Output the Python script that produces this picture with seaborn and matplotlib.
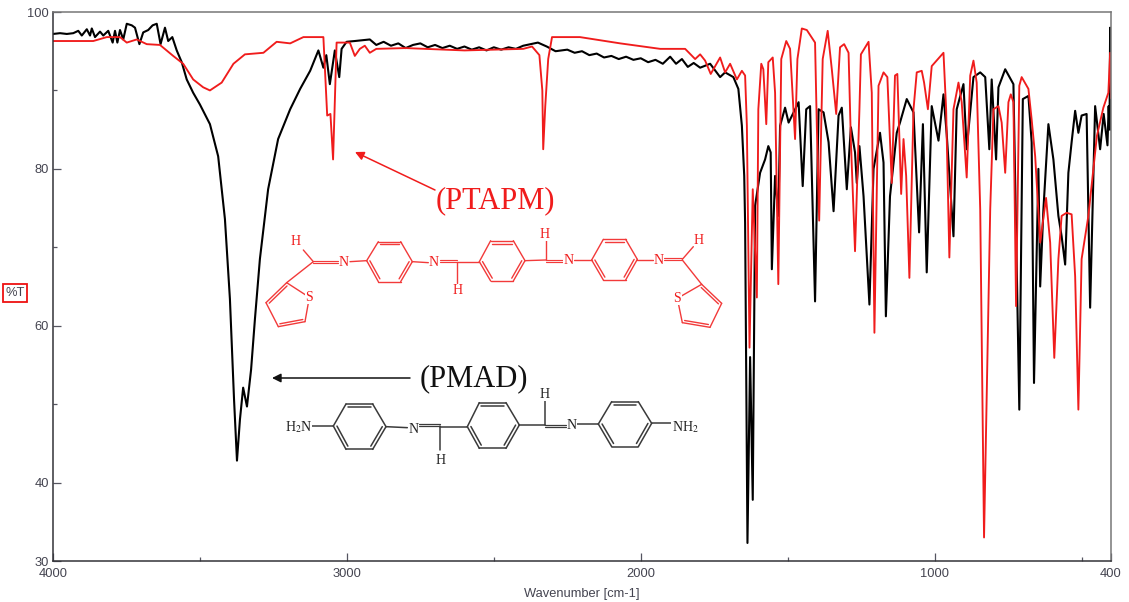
import numpy as np
import pandas as pd
import matplotlib
matplotlib.use('Agg')
import matplotlib.pyplot as plt
import seaborn as sns

# PMAD, black trace
wn_pmad = [4000,3976,3953,3931,3914,3902,3885,3874,3868,3857,3840,3829,3812,3797,3789,3781,3772,3761,3749,3732,3721,3706,3693,3676,3661,3647,3634,3619,3608,3594,3579,3562,3545,3523,3500,3466,3438,
           3415,3398,3384,3374,3364,3353,3340,3326,3313,3296,3268,3234,3193,3159,3125,3097,3080,3070,3058,3041,3026,3018,3001,2973,2922,
           2900,2875,2850,2825,2800,2775,2750,2725,2700,2675,2650,2625,2600,2575,2550,2525,2500,2475,2450,2425,2400,2375,2350,2320,2290,2250,2225,2200,2175,2150,2125,2100,2075,2050,2025,2000,1975,1950,1925,1900,1880,1860,1840,1820,
           1798,1764,1730,1713,1685,1668,1656,1648,1645,1637,1628,1619,1611,1594,1577,1566,1558,1554,1543,1532,1526,1509,1497,1480,1463,1449,1437,1424,1407,1395,1378,1361,1344,1327,1316,1299,1285,1271,1265,1256,1242,1222,1208,1186,1174,1166,1152,1129,1118,1095,1072,1053,1040,1027,1010,987,970,959,936,925,902,891,868,845,828,814,806,791,783,760,732,712,700,681,670,662,647,641,630,613,596,579,568,556,545,534,522,511,500,483,471,454,437,425,412,408,405,403,400]
t_pmad = [97.2,97.3,97.2,97.3,97.6,97.0,97.8,97.0,97.9,96.8,97.5,97.0,97.6,96.1,97.6,96.1,97.7,96.5,98.5,98.3,98.0,95.9,97.4,97.7,98.3,98.5,95.9,98.0,96.3,96.8,95.1,93.6,91.4,89.7,88.2,85.7,81.6,
          73.6,63.4,50.6,42.8,48.0,52.1,49.7,54.4,60.8,68.5,77.4,83.8,87.6,90.2,92.5,95.1,92.9,94.5,90.8,95.1,91.7,95.3,96.2,96.3,96.5,
          95.8,96.2,95.7,96.0,95.4,95.8,96.0,95.5,95.8,95.4,95.7,95.3,95.6,95.2,95.5,95.1,95.5,95.2,95.5,95.3,95.7,95.9,96.1,95.6,95.0,95.2,94.8,95.0,94.5,94.7,94.2,94.4,94.0,94.3,93.9,94.1,93.6,93.9,93.4,94.3,93.4,94.0,93.0,93.5,
          92.9,93.4,91.7,92.3,91.7,90.2,85.5,79.1,73.1,32.3,56.0,37.8,75.3,79.5,81.2,82.9,82.1,67.2,79.1,74.0,85.5,87.8,85.9,87.2,88.5,77.8,87.6,88.0,63.1,87.6,87.2,83.4,74.6,86.8,87.8,77.4,85.3,82.1,78.2,82.9,76.5,62.7,80.0,84.6,80.8,61.2,76.5,84.6,85.9,88.9,87.2,71.9,85.7,66.8,88.0,83.6,89.5,84.4,71.4,87.6,90.8,82.5,91.7,92.3,91.7,82.5,91.4,81.2,90.4,92.7,90.8,49.3,88.9,89.3,83.4,52.7,80.0,65.0,74.8,85.7,81.2,74.0,71.4,67.8,79.5,83.4,87.4,84.6,86.8,87.0,62.3,88.0,82.5,87.0,83.0,88.0,85.0,98.0,85.0]

# PTAPM, red trace
wn_ptapm = [4000,3863,3817,3772,3749,3715,3681,3636,3591,3557,3523,3489,3466,3426,3386,3347,3284,3239,3193,3148,3080,3071,3067,3056,3047,3035,3029,2990,2973,2956,2939,2922,
            2900,2800,2600,2400,2370,2345,2335,2332,2325,2315,2302,2207,2070,1934,1849,1815,
            1798,1781,1762,1730,1713,1696,1673,1656,1645,1639,1630,1619,1605,1600,1590,1583,1573,1566,1551,1543,1532,1522,1505,1492,1475,1467,1452,1435,1407,1401,1393,1381,1364,1350,1335,1322,1308,1293,1285,1271,1256,1251,1225,1214,1205,1191,1174,1161,1146,1135,1127,1114,1106,1097,1086,1072,1061,1044,1036,1023,1010,970,961,950,936,919,908,891,879,868,857,845,832,811,800,783,772,760,749,741,732,723,712,704,681,670,658,641,621,607,593,579,568,551,534,522,511,500,477,448,426,409,403,400]
t_ptapm = [96.3,96.3,96.8,96.8,96.1,96.5,95.9,95.8,94.4,93.4,91.4,90.4,90.0,91.0,93.4,94.6,94.8,96.2,96.0,96.8,96.8,89.7,86.8,87.0,81.2,96.1,96.1,96.1,94.4,95.3,95.7,94.8,
           95.3,95.4,95.1,95.3,95.6,94.5,90.0,82.5,88.0,94.0,96.8,96.8,96.0,95.3,95.3,94.0,
           94.6,93.8,92.1,94.2,92.3,93.4,91.4,92.5,91.9,85.5,57.2,77.4,63.6,87.6,93.4,92.7,85.7,93.6,94.2,89.7,65.3,94.0,96.3,95.3,83.8,94.0,97.9,97.7,96.1,85.5,73.4,94.0,97.6,92.7,87.0,95.5,95.9,94.8,83.4,69.5,87.6,94.6,96.2,89.7,59.1,90.6,92.3,91.7,78.2,91.9,92.1,76.8,83.8,79.1,66.1,87.6,92.3,92.5,91.0,87.6,93.1,94.8,87.6,68.7,87.6,91.0,88.5,78.9,91.9,93.8,91.0,74.8,33.0,74.8,87.6,88.0,85.9,79.5,88.5,89.5,88.5,62.5,90.6,91.7,90.2,86.3,81.6,70.6,76.3,70.6,55.9,68.5,74.0,74.4,74.2,66.3,49.3,68.5,74.0,84.2,87.8,89.7,94.8,89.0]

x_major = [4000, 3000, 2000, 1000, 400]
x_minor = [3500, 2500, 1500, 500]
y_major = [100, 80, 60, 40, 30]
y_minor = [90, 70, 50]

RED = '#f01c1c'
GREY = '#555560'

# molecule sketches, coordinates are in the zoomed-in picture (3x)
ring_a = [(350,122),(385,65),(452,65),(487,125),(452,185),(385,185)]
ring_b = [(688,125),(722,62),(790,62),(825,122),(790,183),(722,183)]
ring_c = [(1025,120),(1060,58),(1127,58),(1162,118),(1127,180),(1060,180)]
thio_l = [(110,188),(178,232),(165,305),(85,320),(48,248)]
thio_r = [(1355,193),(1282,235),(1297,308),(1380,322),(1415,250)]
ptapm_bonds = [((190,125),(160,90)),((110,188),(190,125)),((300,125),(350,122)),((487,125),(535,128)),
               ((622,125),(622,190)),((622,125),(688,125)),((825,122),(888,120)),((888,120),(888,60)),
               ((972,120),(1025,120)),((1162,120),(1210,120)),((1297,118),(1330,80)),((1297,120),(1355,193))]
ptapm_double = [((190,125),(265,125)),((570,123),(622,123)),((888,122),(938,122)),((1243,118),(1297,118))]
ptapm_labels = [('H',137,65),('N',282,127),('S',178,232),('N',552,128),('H',622,213),('H',885,42),
                ('N',955,122),('N',1227,122),('H',1347,60),('S',1282,235)]

ring_d = [(190,138),(228,72),(308,72),(348,140),(308,208),(228,208)]
ring_e = [(592,140),(628,68),(708,68),(748,135),(708,205),(628,205)]
ring_f = [(985,132),(1025,65),(1105,65),(1145,130),(1105,200),(1025,200)]
pmad_bonds = [((125,138),(190,138)),((348,140),(412,143)),((510,138),(510,210)),((510,140),(592,140)),
              ((748,135),(825,135)),((825,135),(825,62)),((922,132),(985,132)),((1145,130),(1210,130))]
pmad_double = [((447,135),(510,135)),((825,137),(888,137))]
pmad_labels = [('H$_2$N',85,140),('N',430,148),('H',513,240),('H',825,42),('N',906,137),('NH$_2$',1245,140)]


def double_bond(ov, p, q, ox, oy, color, lw, gap=1.8):
    p = np.array([ox + p[0]/3, oy + p[1]/3])
    q = np.array([ox + q[0]/3, oy + q[1]/3])
    n = np.array([q[1]-p[1], p[0]-q[0]], dtype=float)
    n = n / np.hypot(*n) * gap / 2
    for s in (-1, 1):
        ov.plot([p[0]+s*n[0], q[0]+s*n[0]], [p[1]+s*n[1], q[1]+s*n[1]], color=color, lw=lw)


def single_bond(ov, p, q, ox, oy, color, lw):
    ov.plot([ox+p[0]/3, ox+q[0]/3], [oy+p[1]/3, oy+q[1]/3], color=color, lw=lw)


def inner_line(ov, p, q, c, ox, oy, color, lw):
    # second stroke of a ring double bond, pulled toward the ring centre
    a = np.array(p) + (np.array(c)-np.array(p))*0.14
    b = np.array(q) + (np.array(c)-np.array(q))*0.14
    single_bond(ov, a, b, ox, oy, color, lw)


def draw_ring(ov, pts, pairs, ox, oy, color, lw):
    c = np.mean(pts, axis=0)
    n = len(pts)
    for i in range(n):
        single_bond(ov, pts[i], pts[(i+1) % n], ox, oy, color, lw)
    for i in pairs:
        inner_line(ov, pts[i], pts[(i+1) % n], c, ox, oy, color, lw)


def draw_labels(ov, labels, ox, oy, color):
    for s, zx, zy in labels:
        ov.text(ox+zx/3, oy+zy/3, s, color=color, fontsize=10, family='Liberation Serif',
                ha='center', va='center', bbox=dict(fc='white', ec='none', pad=0.3), zorder=5,
                math_fontfamily='stix')


sns.set_theme(style='ticks')
plt.rcParams['font.family'] = ['Liberation Sans', 'DejaVu Sans']

df_pmad = pd.DataFrame({'wavenumber': wn_pmad, 'transmittance': t_pmad})
df_ptapm = pd.DataFrame({'wavenumber': wn_ptapm, 'transmittance': t_ptapm})

fig = plt.figure(figsize=(11.29, 6.02), dpi=100)
ax = fig.add_axes([53/1129, 1-561/602, (1111-53)/1129, (561-12)/602])

sns.lineplot(data=df_pmad, x='wavenumber', y='transmittance', color='black', lw=1.5,
             estimator=None, sort=False, ax=ax)
sns.lineplot(data=df_ptapm, x='wavenumber', y='transmittance', color=RED, lw=1.35,
             estimator=None, sort=False, ax=ax)

ax.set_xlim(4000, 400)
ax.set_ylim(30, 100)
ax.set_xticks(x_major)
ax.set_xticks(x_minor, minor=True)
ax.set_yticks(y_major)
ax.set_yticks(y_minor, minor=True)
ax.tick_params(which='major', direction='in', length=6, width=0.9, color=GREY,
               labelsize=9.3, labelcolor='#444450', pad=3)
ax.tick_params(axis='x', which='major', pad=5)
ax.tick_params(which='minor', direction='in', length=3, width=0.9, color=GREY)
ax.set_xlabel('Wavenumber [cm-1]', fontsize=9.3, color='#444450')
ax.xaxis.set_label_coords(0.5, -0.05)
ax.set_ylabel('')
for name in ['left', 'bottom']:
    ax.spines[name].set_color('#333338')
    ax.spines[name].set_linewidth(1.1)
for name in ['top', 'right']:
    ax.spines[name].set_color('#777777')
    ax.spines[name].set_linewidth(1.1)

# overlay in picture pixels for the annotations and structures
ov = fig.add_axes([0, 0, 1, 1])
ov.set_xlim(0, 1129)
ov.set_ylim(602, 0)
ov.axis('off')
ov.patch.set_alpha(0)

ov.text(15, 293, '%T', color='#444450', fontsize=9.3, ha='center', va='center',
        bbox=dict(fc='white', ec='#ee1111', lw=1.3, boxstyle='square,pad=0.2'))
ov.text(495, 201, '(PTAPM)', color=RED, fontsize=22, family='Liberation Serif', ha='center', va='center')
ov.text(474, 379, '(PMAD)', color='#111111', fontsize=22, family='Liberation Serif', ha='center', va='center')
ov.annotate('', xy=(355, 152), xytext=(435, 190),
            arrowprops=dict(arrowstyle='-|>', color=RED, lw=1.1, mutation_scale=13, shrinkA=0, shrinkB=0))
ov.annotate('', xy=(272, 378), xytext=(410, 378),
            arrowprops=dict(arrowstyle='-|>', color='#111111', lw=1.1, mutation_scale=13, shrinkA=0, shrinkB=0))

RX, RY = 250, 220
MOL_RED = '#f23a3a'
for pts in (ring_a, ring_b, ring_c):
    draw_ring(ov, pts, [1, 3, 5], RX, RY, MOL_RED, 1.0)
draw_ring(ov, thio_l, [4, 2], RX, RY, MOL_RED, 1.0)
draw_ring(ov, thio_r, [4, 2], RX, RY, MOL_RED, 1.0)
for p, q in ptapm_bonds:
    single_bond(ov, p, q, RX, RY, MOL_RED, 1.0)
for p, q in ptapm_double:
    double_bond(ov, p, q, RX, RY, MOL_RED, 0.85)
draw_labels(ov, ptapm_labels, RX, RY, RED)

BX, BY = 270, 380
MOL_BLK = '#3a3a3a'
for pts in (ring_d, ring_e, ring_f):
    draw_ring(ov, pts, [1, 3, 5], BX, BY, MOL_BLK, 1.1)
for p, q in pmad_bonds:
    single_bond(ov, p, q, BX, BY, MOL_BLK, 1.1)
for p, q in pmad_double:
    double_bond(ov, p, q, BX, BY, MOL_BLK, 0.9)
draw_labels(ov, pmad_labels, BX, BY, '#222222')

fig.savefig('out.png', dpi=100)
